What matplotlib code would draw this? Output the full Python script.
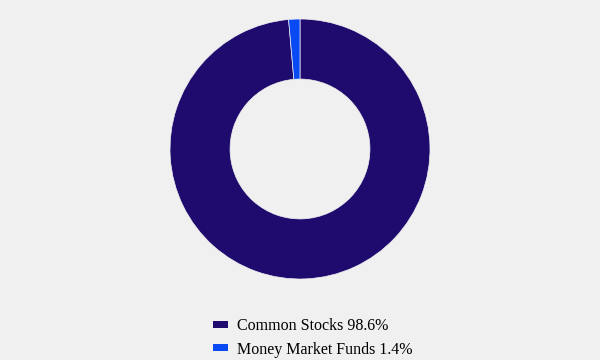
import matplotlib.pyplot as plt
from matplotlib.patches import Patch

labels = ['Common Stocks 98.6%', 'Money Market Funds 1.4%']
values = [98.6, 1.4]
colors = ['#1f0a6e', '#0a4af5']

fig = plt.figure(figsize=(6, 3.6), dpi=100, facecolor='#f0f0f0')
ax = fig.add_axes([170 / 600, (360 - 149 - 130) / 360, 260 / 600, 260 / 360])
ax.set_facecolor('#f0f0f0')
ax.pie(values, colors=colors, startangle=90, counterclock=False, radius=1,
       wedgeprops=dict(width=0.462, edgecolor='#f0f0f0', linewidth=0.5))
ax.set_xlim(-1, 1)
ax.set_ylim(-1, 1)
ax.set_aspect('equal')
ax.axis('off')

handles = [Patch(facecolor=c, edgecolor='none') for c in colors]
leg = fig.legend(handles, labels, loc='center', bbox_to_anchor=(313 / 600, 1 - 338 / 360),
                 frameon=False, prop={'family': 'Liberation Serif', 'size': 11.5},
                 handlelength=0.9, handleheight=0.28, handletextpad=0.6, labelspacing=0.45)

fig.savefig('out.png', dpi=100, facecolor='#f0f0f0')
